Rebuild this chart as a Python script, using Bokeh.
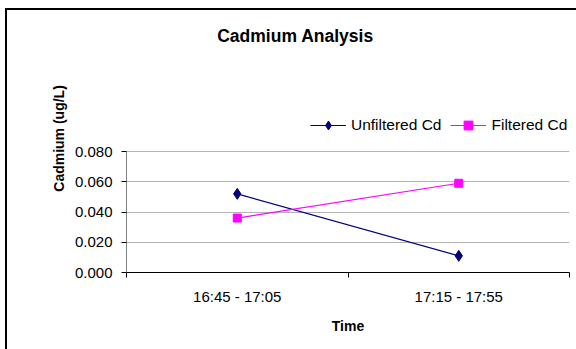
from bokeh.plotting import figure
from bokeh.models import FixedTicker, Legend, LegendItem, Label, Range1d, NumeralTickFormatter, Title
from bokeh.embed import file_html
from bokeh.resources import INLINE

categories = ["16:45 - 17:05", "17:15 - 17:55"]
unfiltered = [0.052, 0.011]
filtered = [0.036, 0.059]
y_ticks = [0.0, 0.02, 0.04, 0.06, 0.08]
chart_title = "Cadmium Analysis"
x_title = "Time"
y_title = "Cadmium  (ug/L)"
series_names = ["Unfiltered Cd", "Filtered Cd"]

FONT = "Liberation Sans"
W, H = 576, 349
FRAME_H = 272          # frame spans whole height above the x axis
PLOT_H = 121           # pixel height of the 0 .. max-tick region

p = figure(width=W, height=H, output_backend="svg", toolbar_location=None,
           x_range=Range1d(0, len(categories)),
           y_range=Range1d(y_ticks[0], y_ticks[-1] * FRAME_H / PLOT_H),
           min_border_left=126, min_border_right=7, min_border_top=0, min_border_bottom=H - FRAME_H)
p.outline_line_color = None
p.background_fill_alpha = 0
p.border_fill_alpha = 0
p.styles = {"box-shadow": "inset 5px 8px 0px 0px #ffffff, inset 7px 10px 0px 0px #000000",
            "background-color": "#ffffff"}

xs = [i + 0.5 for i in range(len(categories))]

# x axis
p.xaxis.ticker = FixedTicker(ticks=xs, minor_ticks=list(range(len(categories) + 1)))
p.xaxis.major_label_overrides = {x: c for x, c in zip(xs, categories)}
p.xaxis.major_tick_line_color = None
p.xaxis.major_tick_out = 0
p.xaxis.major_tick_in = 0
p.xaxis.minor_tick_line_color = "black"
p.xaxis.minor_tick_out = 5
p.xaxis.minor_tick_in = 0
p.xaxis.axis_line_color = "black"
p.xaxis.major_label_standoff = 10
p.xaxis.major_label_text_font = FONT
p.xaxis.major_label_text_font_size = "15px"
p.xaxis.major_label_text_color = "black"
p.xaxis.axis_label = x_title
p.xaxis.axis_label_text_font = FONT
p.xaxis.axis_label_text_font_size = "14px"
p.xaxis.axis_label_text_font_style = "bold"
p.xaxis.axis_label_text_color = "black"
p.xaxis.axis_label_standoff = 10

# y axis
yax = p.yaxis[0]
yax.bounds = (y_ticks[0], y_ticks[-1])
yax.ticker = FixedTicker(ticks=y_ticks, minor_ticks=[])
yax.formatter = NumeralTickFormatter(format="0.000")
yax.major_tick_line_color = "black"
yax.major_tick_out = 5
yax.major_tick_in = 0
yax.minor_tick_line_color = None
yax.axis_line_color = "#808080"
yax.major_label_standoff = 9
yax.major_label_text_font = FONT
yax.major_label_text_font_size = "15px"
yax.major_label_text_color = "black"

# y axis title, centred on the 0 .. max-tick span
y_label = Title(text=y_title, align="center", offset=-(211 - FRAME_H / 2), standoff=10,
                text_font=FONT, text_font_size="14px", text_font_style="bold", text_color="black")
p.add_layout(y_label, "left")

p.xgrid.grid_line_color = None
p.ygrid.ticker = FixedTicker(ticks=y_ticks)
p.ygrid.grid_line_color = "#b4b4b4"

# series
l1 = p.line(xs, unfiltered, line_color="#000080", line_width=1.2)
s1 = p.scatter(xs, unfiltered, marker="diamond", size=11, fill_color="#000080", line_color="#000080")
l2 = p.line(xs, filtered, line_color="#ff00ff", line_width=1.2)
s2 = p.scatter(xs, filtered, marker="square", size=8, fill_color="#ff00ff", line_color="#ff00ff")

legend = Legend(items=[LegendItem(label=series_names[0], renderers=[l1, s1]),
                       LegendItem(label=series_names[1], renderers=[l2, s2])],
                orientation="horizontal", location=(184, 136),
                border_line_color=None, background_fill_alpha=0,
                glyph_width=36, glyph_height=22, label_standoff=5, spacing=9,
                padding=0, margin=0,
                label_text_font=FONT, label_text_font_size="15.5px", label_text_color="black")
p.add_layout(legend, "center")

title = Label(x=169, y=237, x_units="screen", y_units="screen", text=chart_title,
              text_align="center", text_baseline="middle", text_font=FONT,
              text_font_size="17.5px", text_font_style="bold", text_color="black")
p.add_layout(title)

open("out.html", "w").write(file_html(p, INLINE))
